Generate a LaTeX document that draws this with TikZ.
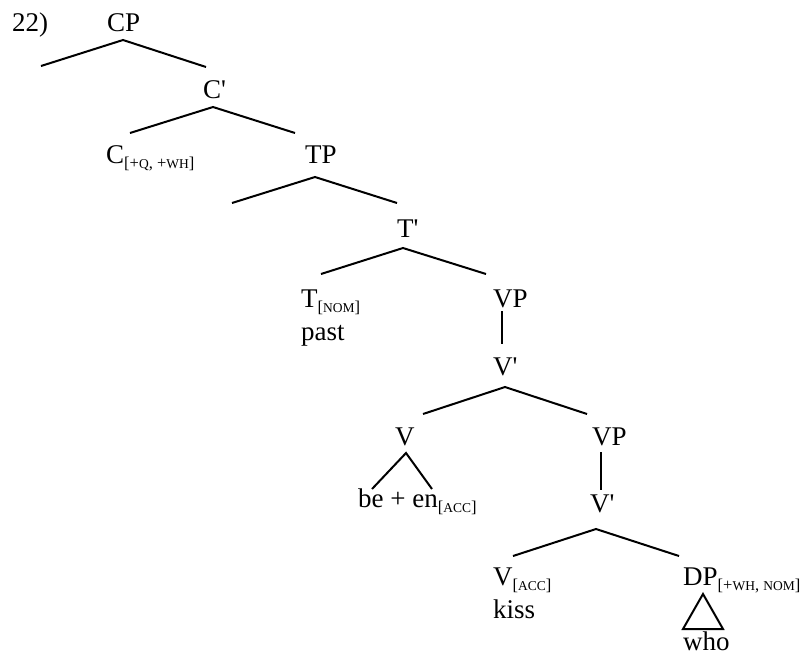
\documentclass[tikz,border=0pt]{standalone}
\usepackage{fontspec}
\setmainfont{Liberation Serif}
\newcommand\fsc[1]{{\fontsize{13.5}{14}\selectfont #1}}
\newcommand\fsub[1]{\raisebox{-5pt}{\fontsize{16.5}{18}\selectfont #1}}
\newcommand\pr{\textquotesingle}
\begin{document}
\begin{tikzpicture}[x=1pt,y=-1pt,
  lab/.style={anchor=base west,inner sep=0pt,font=\fontsize{27}{30}\selectfont},
  br/.style={line width=2pt}]
\useasboundingbox (0,0) rectangle (810,657);
% labels
\node[lab] (num) at (12,31) {22)};
\node[lab] (cp) at (107,31) {CP};
\node[lab] (cbar) at (203,98) {C\pr};
\node[lab] (c) at (106,163) {C\fsub{[+\fsc{Q}, +\fsc{WH}]}};
\node[lab] (tp) at (305,163) {TP};
\node[lab] (tbar) at (397,237) {T\pr};
\node[lab] (t) at (301,307) {T\fsub{[\fsc{NOM}]}};
\node[lab] (past) at (301,340) {past};
\node[lab] (vp) at (493,307) {VP};
\node[lab] (vbar) at (493,375) {V\pr};
\node[lab] (v) at (395,445) {V};
\node[lab] (vp2) at (592,445) {VP};
\node[lab] (been) at (358,507) {be + en\fsub{[\fsc{ACC}]}};
\node[lab] (vbar2) at (590,512) {V\pr};
\node[lab] (vacc) at (493,585) {V\fsub{[\fsc{ACC}]}};
\node[lab] (kiss) at (493,618) {kiss};
\node[lab] (dp) at (683,585) {DP\fsub{[+\fsc{WH}, \fsc{NOM}]}};
\node[lab] (who) at (683,650) {who};
% branch coordinates
\coordinate (cpA) at (123,40); \coordinate (cpL) at (41,66); \coordinate (cpR) at (206,67);
\coordinate (cbA) at (213,107); \coordinate (cbL) at (130,133); \coordinate (cbR) at (295,133);
\coordinate (tpA) at (315,177); \coordinate (tpL) at (232,203); \coordinate (tpR) at (397,203);
\coordinate (tbA) at (403,248); \coordinate (tbL) at (321,274); \coordinate (tbR) at (486,274);
\coordinate (vpT) at (502,311); \coordinate (vpB) at (502,344);
\coordinate (vbA) at (505,387); \coordinate (vbL) at (423,414); \coordinate (vbR) at (587,414);
\coordinate (vA) at (406,453); \coordinate (vL) at (372,489); \coordinate (vR) at (432,489);
\coordinate (vp2T) at (601,452); \coordinate (vp2B) at (601,490);
\coordinate (vb2A) at (596,529); \coordinate (vb2L) at (513,556); \coordinate (vb2R) at (679,556);
\coordinate (trA) at (703,594); \coordinate (trL) at (683,629); \coordinate (trR) at (723,629);
% branches
\draw[br] (cpL) -- (cpA) -- (cpR);
\draw[br] (cbL) -- (cbA) -- (cbR);
\draw[br] (tpL) -- (tpA) -- (tpR);
\draw[br] (tbL) -- (tbA) -- (tbR);
\draw[br] (vpT) -- (vpB);
\draw[br] (vbL) -- (vbA) -- (vbR);
\draw[br] (vL) -- (vA) -- (vR);
\draw[br] (vp2T) -- (vp2B);
\draw[br] (vb2L) -- (vb2A) -- (vb2R);
\draw[br,line join=miter] (trA) -- (trL) -- (trR) -- cycle;
\end{tikzpicture}
\end{document}
